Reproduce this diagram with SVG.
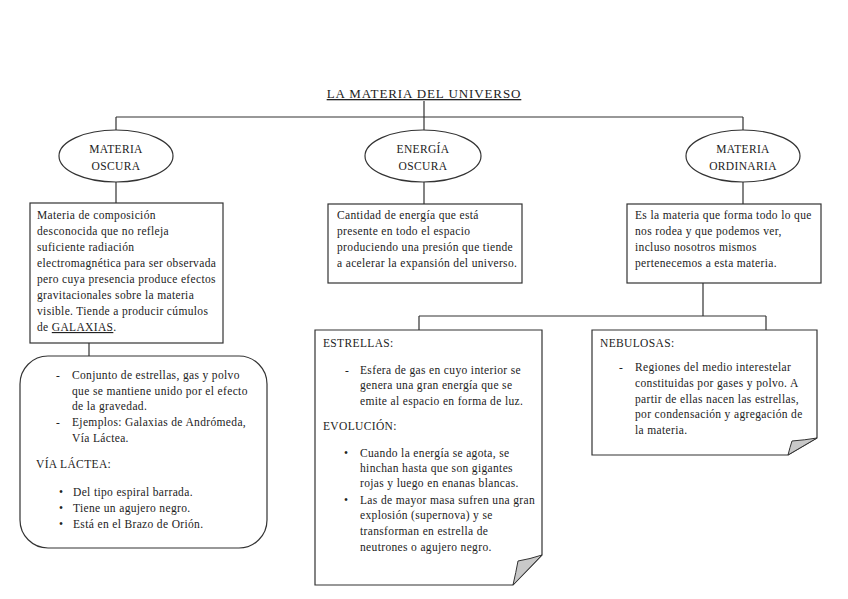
<svg xmlns="http://www.w3.org/2000/svg" width="848" height="599" viewBox="0 0 848 599">
<style>
text{font-family:"Liberation Serif","Times New Roman",serif;font-size:11.5px;letter-spacing:0.35px;fill:#222}
.ln{stroke:#333;stroke-width:1.2;fill:none}
.bx{stroke:#333;stroke-width:1.2;fill:#fff}
.fold{stroke:#333;stroke-width:1;fill:#c8c8c8}
.c{text-anchor:middle}
</style>
<rect width="848" height="599" fill="#fff"/>
<g id="connectors">
<path class="ln" d="M424,101 V117 M116,117 H743 M116,117 V130 M424,117 V130 M743,117 V130 M116,182 V203 M424,182 V204 M743,182 V204 M89,343 V356 M703,283 V316 M419,316 H766 M419,316 V330 M766,316 V330"/>
</g>
<g id="title">
<text x="424" y="98" class="c" style="font-size:13px;letter-spacing:0.9px;text-decoration:underline">LA MATERIA DEL UNIVERSO</text>
</g>
<g id="materia-oscura">
<ellipse class="bx" cx="116" cy="156" rx="57" ry="26"/>
<text x="116" y="153" class="c">MATERIA</text>
<text x="116" y="170" class="c">OSCURA</text>
</g>
<g id="energia-oscura">
<ellipse class="bx" cx="423" cy="156" rx="58" ry="26"/>
<text x="423" y="153" class="c">ENERGÍA</text>
<text x="423" y="170" class="c">OSCURA</text>
</g>
<g id="materia-ordinaria">
<ellipse class="bx" cx="743" cy="156" rx="57" ry="26"/>
<text x="743" y="153" class="c">MATERIA</text>
<text x="743" y="170" class="c">ORDINARIA</text>
</g>
<g id="desc-materia-oscura">
<rect class="bx" x="30" y="203" width="193" height="140"/>
<text x="37" y="219">Materia de composición</text>
<text x="37" y="235">desconocida que no refleja</text>
<text x="37" y="251">suficiente radiación</text>
<text x="37" y="267">electromagnética para ser observada</text>
<text x="37" y="283">pero cuya presencia produce efectos</text>
<text x="37" y="299">gravitacionales sobre la materia</text>
<text x="37" y="315">visible. Tiende a producir cúmulos</text>
<text x="37" y="331">de <tspan style="text-decoration:underline">GALAXIAS</tspan>.</text>
</g>
<g id="desc-energia-oscura">
<rect class="bx" x="328" y="204" width="194" height="79"/>
<text x="337" y="219">Cantidad de energía que está</text>
<text x="337" y="235">presente en todo el espacio</text>
<text x="337" y="251">produciendo una presión que tiende</text>
<text x="337" y="267">a acelerar la expansión del universo.</text>
</g>
<g id="desc-materia-ordinaria">
<rect class="bx" x="627" y="204" width="194" height="79"/>
<text x="635" y="219">Es la materia que forma todo lo que</text>
<text x="635" y="235">nos rodea y que podemos ver,</text>
<text x="635" y="251">incluso nosotros mismos</text>
<text x="635" y="267">pertenecemos a esta materia.</text>
</g>
<g id="galaxias">
<rect class="bx" x="20" y="356" width="247" height="192" rx="28" ry="28"/>
<text x="56" y="379">-</text>
<text x="72" y="379">Conjunto de estrellas, gas y polvo</text>
<text x="72" y="395">que se mantiene unido por el efecto</text>
<text x="72" y="410">de la gravedad.</text>
<text x="56" y="426">-</text>
<text x="72" y="426">Ejemplos: Galaxias de Andrómeda,</text>
<text x="72" y="442">Vía Láctea.</text>
<text x="36" y="468">VÍA LÁCTEA:</text>
<text x="59" y="496">•</text>
<text x="73" y="496">Del tipo espiral barrada.</text>
<text x="59" y="512">•</text>
<text x="73" y="512">Tiene un agujero negro.</text>
<text x="59" y="528">•</text>
<text x="73" y="528">Está en el Brazo de Orión.</text>
</g>
<g id="estrellas">
<path class="bx" d="M315,330 H542 V555 L513,585 H315 Z"/>
<path class="fold" d="M513,585 Q516,572 518,561 Q530,559 542,555 Z"/>
<text x="323" y="347">ESTRELLAS:</text>
<text x="345" y="374">-</text>
<text x="360" y="374">Esfera de gas en cuyo interior se</text>
<text x="360" y="389">genera una gran energía que se</text>
<text x="360" y="405">emite al espacio en forma de luz.</text>
<text x="323" y="430">EVOLUCIÓN:</text>
<text x="344" y="457">•</text>
<text x="360" y="457">Cuando la energía se agota, se</text>
<text x="360" y="472">hinchan hasta que son gigantes</text>
<text x="360" y="487">rojas y luego en enanas blancas.</text>
<text x="344" y="504">•</text>
<text x="360" y="504">Las de mayor masa sufren una gran</text>
<text x="360" y="519">explosión (supernova) y se</text>
<text x="360" y="535">transforman en estrella de</text>
<text x="360" y="551">neutrones o agujero negro.</text>
</g>
<g id="nebulosas">
<path class="bx" d="M592,330 H817 V438 L788,455 H592 Z"/>
<path class="fold" d="M788,455 Q790,447 792,441 Q805,440 817,438 Z"/>
<text x="600" y="347">NEBULOSAS:</text>
<text x="619" y="371">-</text>
<text x="635" y="371">Regiones del medio interestelar</text>
<text x="635" y="387">constituidas por gases y polvo. A</text>
<text x="635" y="403">partir de ellas nacen las estrellas,</text>
<text x="635" y="418">por condensación y agregación de</text>
<text x="635" y="434">la materia.</text>
</g>
</svg>
